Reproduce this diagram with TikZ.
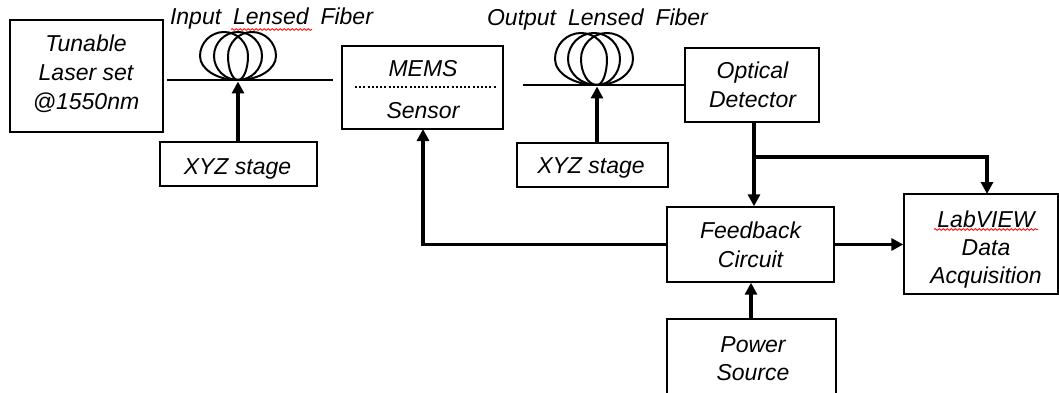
\documentclass[tikz,border=0pt]{standalone}
\usepackage{fontspec}
\setmainfont{Liberation Sans}
\usetikzlibrary{arrows.meta,decorations.pathmorphing,calc}
\begin{document}
\begin{tikzpicture}[x=1pt,y=-1pt,
  box/.style={draw, line width=1.4pt, inner sep=0pt},
  txt/.style={font=\fontsize{23}{29}\selectfont\itshape, inner sep=0pt, anchor=base},
  arr/.style={line width=3.5pt, -{Triangle[length=12pt,width=12pt]}},
  thk/.style={line width=3.5pt},
  fiber/.style={line width=2.4pt},
  coil/.style={line width=2pt},
  dots/.style={line width=2pt, dash pattern=on 2pt off 2.2pt},
  squig/.style={red, line width=0.8pt, decorate, decoration={snake, amplitude=0.9pt, segment length=4pt}}
]
\path[use as bounding box] (0,0) rectangle (1059,393);
\clip (0,0) rectangle (1059,393);

% boxes
\node[box, minimum width=153pt, minimum height=112pt] (laser) at (86.5,76) {};
\node[box, minimum width=157pt, minimum height=44pt] (xyza) at (238.5,164) {};
\node[box, minimum width=161pt, minimum height=83pt] (mems) at (422.5,87.5) {};
\node[box, minimum width=151pt, minimum height=44pt] (xyzb) at (592.5,165) {};
\node[box, minimum width=134pt, minimum height=74pt] (det) at (752,85) {};
\node[box, minimum width=167pt, minimum height=75pt] (fb) at (750.5,244.5) {};
\node[box, minimum width=154pt, minimum height=100pt] (lab) at (981,244) {};
\node[box, minimum width=169pt, minimum height=82pt] (pow) at (751.5,360) {};

% texts
\node[txt] (t1) at (86,52) {Tunable};
\node[txt] (t2) at (86,81) {Laser set};
\node[txt] (t3) at (86,110) {@1550nm};
\node[txt] (xa) at (237.5,174) {XYZ stage};
\node[txt] (xb) at (591,173) {XYZ stage};
\node[txt] (m1) at (423,77) {MEMS};
\node[txt] (m2) at (423,118) {Sensor};
\node[txt] (d1) at (752.5,79) {Optical};
\node[txt] (d2) at (752.5,108) {Detector};
\node[txt] (f1) at (750.5,238) {Feedback};
\node[txt] (f2) at (750.5,267) {Circuit};
\node[txt] (l1) at (986,227) {LabVIEW};
\node[txt] (l2) at (986,255) {Data};
\node[txt] (l3) at (986,283) {Acquisition};
\node[txt] (p1) at (753,352) {Power};
\node[txt] (p2) at (753,380) {Source};
\node[txt] (lin) at (271.5,25) {Input\hspace{0.52em}Lensed\hspace{0.52em}Fiber};
\node[txt] (lout) at (597.5,25.5) {Output\hspace{0.52em}Lensed\hspace{0.52em}Fiber};

% spell-check squiggles
\draw[squig] (231,29.5) -- (312,29.5);
\draw[squig] (934,229.5) -- (1038,229.5);

% MEMS divider
\coordinate (dvl) at (355,87);
\coordinate (dvr) at (497,87);
\draw[dots] (dvl) -- (dvr);

% fibers
\coordinate (fa1) at (167,80);
\coordinate (fa2) at (333,80);
\coordinate (inB) at (238,80);
\draw[fiber] (fa1) -- (fa2);
\foreach \d in {-14,0,14}{
  \draw[coil] (238,80) .. controls ({238-0.55*(24-\d)},80) and ({238+\d-24},{56+13.2}) .. ({238+\d-24},56)
    .. controls ({238+\d-24},{56-13.2}) and ({238+\d-13.2},32) .. ({238+\d},32)
    .. controls ({238+\d+13.2},32) and ({238+\d+24},{56-13.2}) .. ({238+\d+24},56)
    .. controls ({238+\d+24},{56+13.2}) and ({238+0.55*(24+\d)},80) .. (238,80);
}
\coordinate (fb1) at (523,85);
\coordinate (outB) at (597,85);
\draw[fiber] (fb1) -- (det.west);
\foreach \d in {-16,-3,10}{
  \draw[coil] (597,85) .. controls ({597-0.55*(26-\d)},85) and ({597+\d-26},{59+14.3}) .. ({597+\d-26},59)
    .. controls ({597+\d-26},{59-14.3}) and ({597+\d-14.3},33) .. ({597+\d},33)
    .. controls ({597+\d+14.3},33) and ({597+\d+26},{59-14.3}) .. ({597+\d+26},59)
    .. controls ({597+\d+26},{59+14.3}) and ({597+0.55*(26+\d)},85) .. (597,85);
}

% stage arrows
\draw[arr] (inB |- xyza.north) -- ($(inB)+(0,1.5)$);
\draw[arr] (outB |- xyzb.north) -- ($(outB)+(0,1.5)$);

% detector to feedback and LabVIEW
\coordinate (dx) at (754,122);
\coordinate (br) at (754,157);
\coordinate (labin) at (987,194);
\draw[arr] (dx) -- (dx |- fb.north);
\draw[arr] (br) -| (labin);

% feedback to MEMS
\coordinate (mb) at (423,129);
\draw[arr] (fb.west) -| (mb);

% feedback to LabVIEW
\draw[arr] (fb.east) -- (lab.west |- fb.east);

% power to feedback
\coordinate (pw) at (751,319);
\draw[arr] (pw) -- (pw |- fb.south);
\end{tikzpicture}
\end{document}
